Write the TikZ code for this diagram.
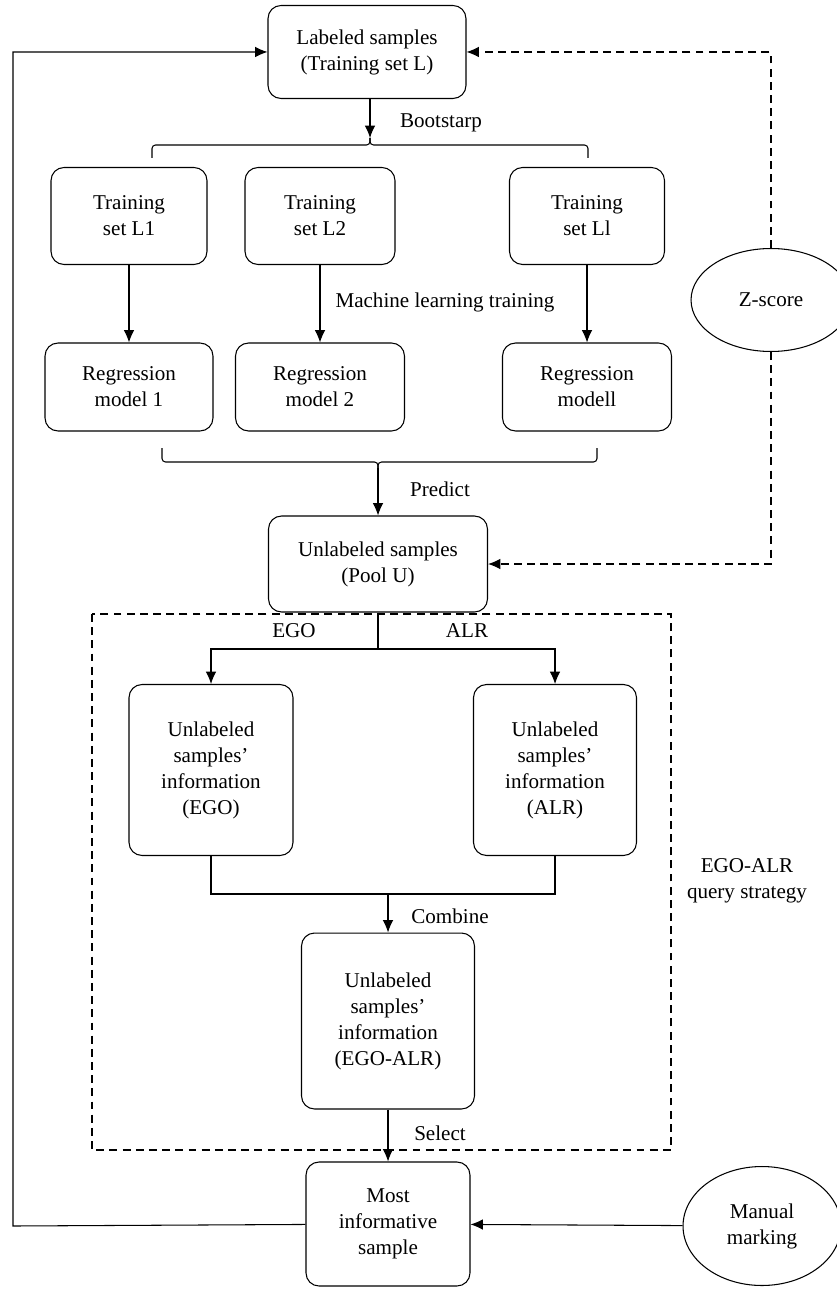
\documentclass[tikz,border=0pt]{standalone}
\usepackage{fontspec}
\setmainfont{Liberation Serif}
\usepackage{tikz}
\usetikzlibrary{shapes.geometric,arrows.meta}

\begin{document}
\begin{tikzpicture}[x=0.02cm, y=-0.02cm, font=\fontsize{12}{14.8}\selectfont, line width=0.6pt,
  box/.style={draw, rounded corners=0.26cm, align=center, inner sep=2pt},
  oval/.style={draw, ellipse, align=center, inner sep=0pt},
  arr/.style={-{Latex[length=7pt,width=6pt]}},
  dsh/.style={dash pattern=on 4.5pt off 3pt},
  brk/.style={rounded corners=2pt}]
\useasboundingbox (0,0) rectangle (836,1290);
% top part
\node[box, minimum width=3.96cm, minimum height=1.86cm] (lab) at (367,52) {Labeled samples\\(Training set L)};
\node[box, minimum width=3.12cm, minimum height=1.94cm] (tr1) at (129,216) {Training\\set L1};
\node[box, minimum width=3.0cm, minimum height=1.94cm] (tr2) at (320,216) {Training\\set L2};
\node[box, minimum width=3.1cm, minimum height=1.94cm] (trl) at (587,216) {Training\\set Ll};
\node[box, minimum width=3.36cm, minimum height=1.76cm] (reg1) at (129,387) {Regression\\model 1};
\node[box, minimum width=3.38cm, minimum height=1.76cm] (reg2) at (320,387) {Regression\\model 2};
\node[box, minimum width=3.38cm, minimum height=1.76cm] (regl) at (587,387) {Regression\\modell};
\node[box, minimum width=4.38cm, minimum height=1.92cm] (pool) at (378,564) {Unlabeled samples\\(Pool U)};
\node[oval, minimum width=3.2cm, minimum height=2.06cm] (zs) at (771,300) {Z-score};
% query strategy
\node[box, minimum width=3.28cm, minimum height=3.42cm] (ego) at (211,770) {Unlabeled\\samples'\\information\\(EGO)};
\node[box, minimum width=3.26cm, minimum height=3.42cm] (alr) at (555,770) {Unlabeled\\samples'\\information\\(ALR)};
\node[box, minimum width=3.46cm, minimum height=3.52cm] (mix) at (388,1021) {Unlabeled\\samples'\\information\\(EGO-ALR)};
\node[box, minimum width=3.28cm, minimum height=2.48cm] (most) at (388,1224) {Most\\informative\\sample};
\node[oval, minimum width=3.16cm, minimum height=2.38cm] (man) at (762,1226) {Manual\\marking};
\node[align=center] (qs) at (747,881) {EGO-ALR\\query strategy};
\draw[dsh] (92,614) rectangle (671,1150);
% labels
\node (lbBoot) at (441,123) {Bootstarp};
\node (lbMl) at (445,302) {Machine learning training};
\node (lbPred) at (440,489) {Predict};
\node (lbEgo) at (294,631) {EGO};
\node (lbAlr) at (467,631) {ALR};
\node (lbComb) at (450,916) {Combine};
\node (lbSel) at (440,1133) {Select};
% brackets
\coordinate (bsTop) at (370,138);
\coordinate (prTop) at (378,468);
\draw[brk] (152,158) |- (370,145) -- (bsTop);
\draw[brk] (588,158) |- (370,145) -- (bsTop);
\draw[brk] (162,448) |- (378,462) -- (prTop);
\draw[brk] (597,448) |- (378,462) -- (prTop);
% connectors
\coordinate (split) at (378,649);
\coordinate (join) at (388,894);
\coordinate (loop) at (13,1226);
\draw[arr] (lab.south -| bsTop) -- (bsTop);
\draw[arr] (tr1) -- (reg1);
\draw[arr] (tr2) -- (reg2);
\draw[arr] (trl) -- (regl);
\draw[arr] (prTop) -- (pool);
\draw (pool) -- (split);
\draw[arr] (split) -| (ego);
\draw[arr] (split) -| (alr);
\draw (ego) |- (join) -| (alr);
\draw[arr] (join) -- (mix);
\draw[arr] (mix) -- (most);
\draw[arr] (man) -- (most);
\draw[arr] (most) -- (loop) |- (lab);
\draw[arr, dsh] (zs) |- (lab);
\draw[arr, dsh] (zs) |- (pool);
\end{tikzpicture}
\end{document}
